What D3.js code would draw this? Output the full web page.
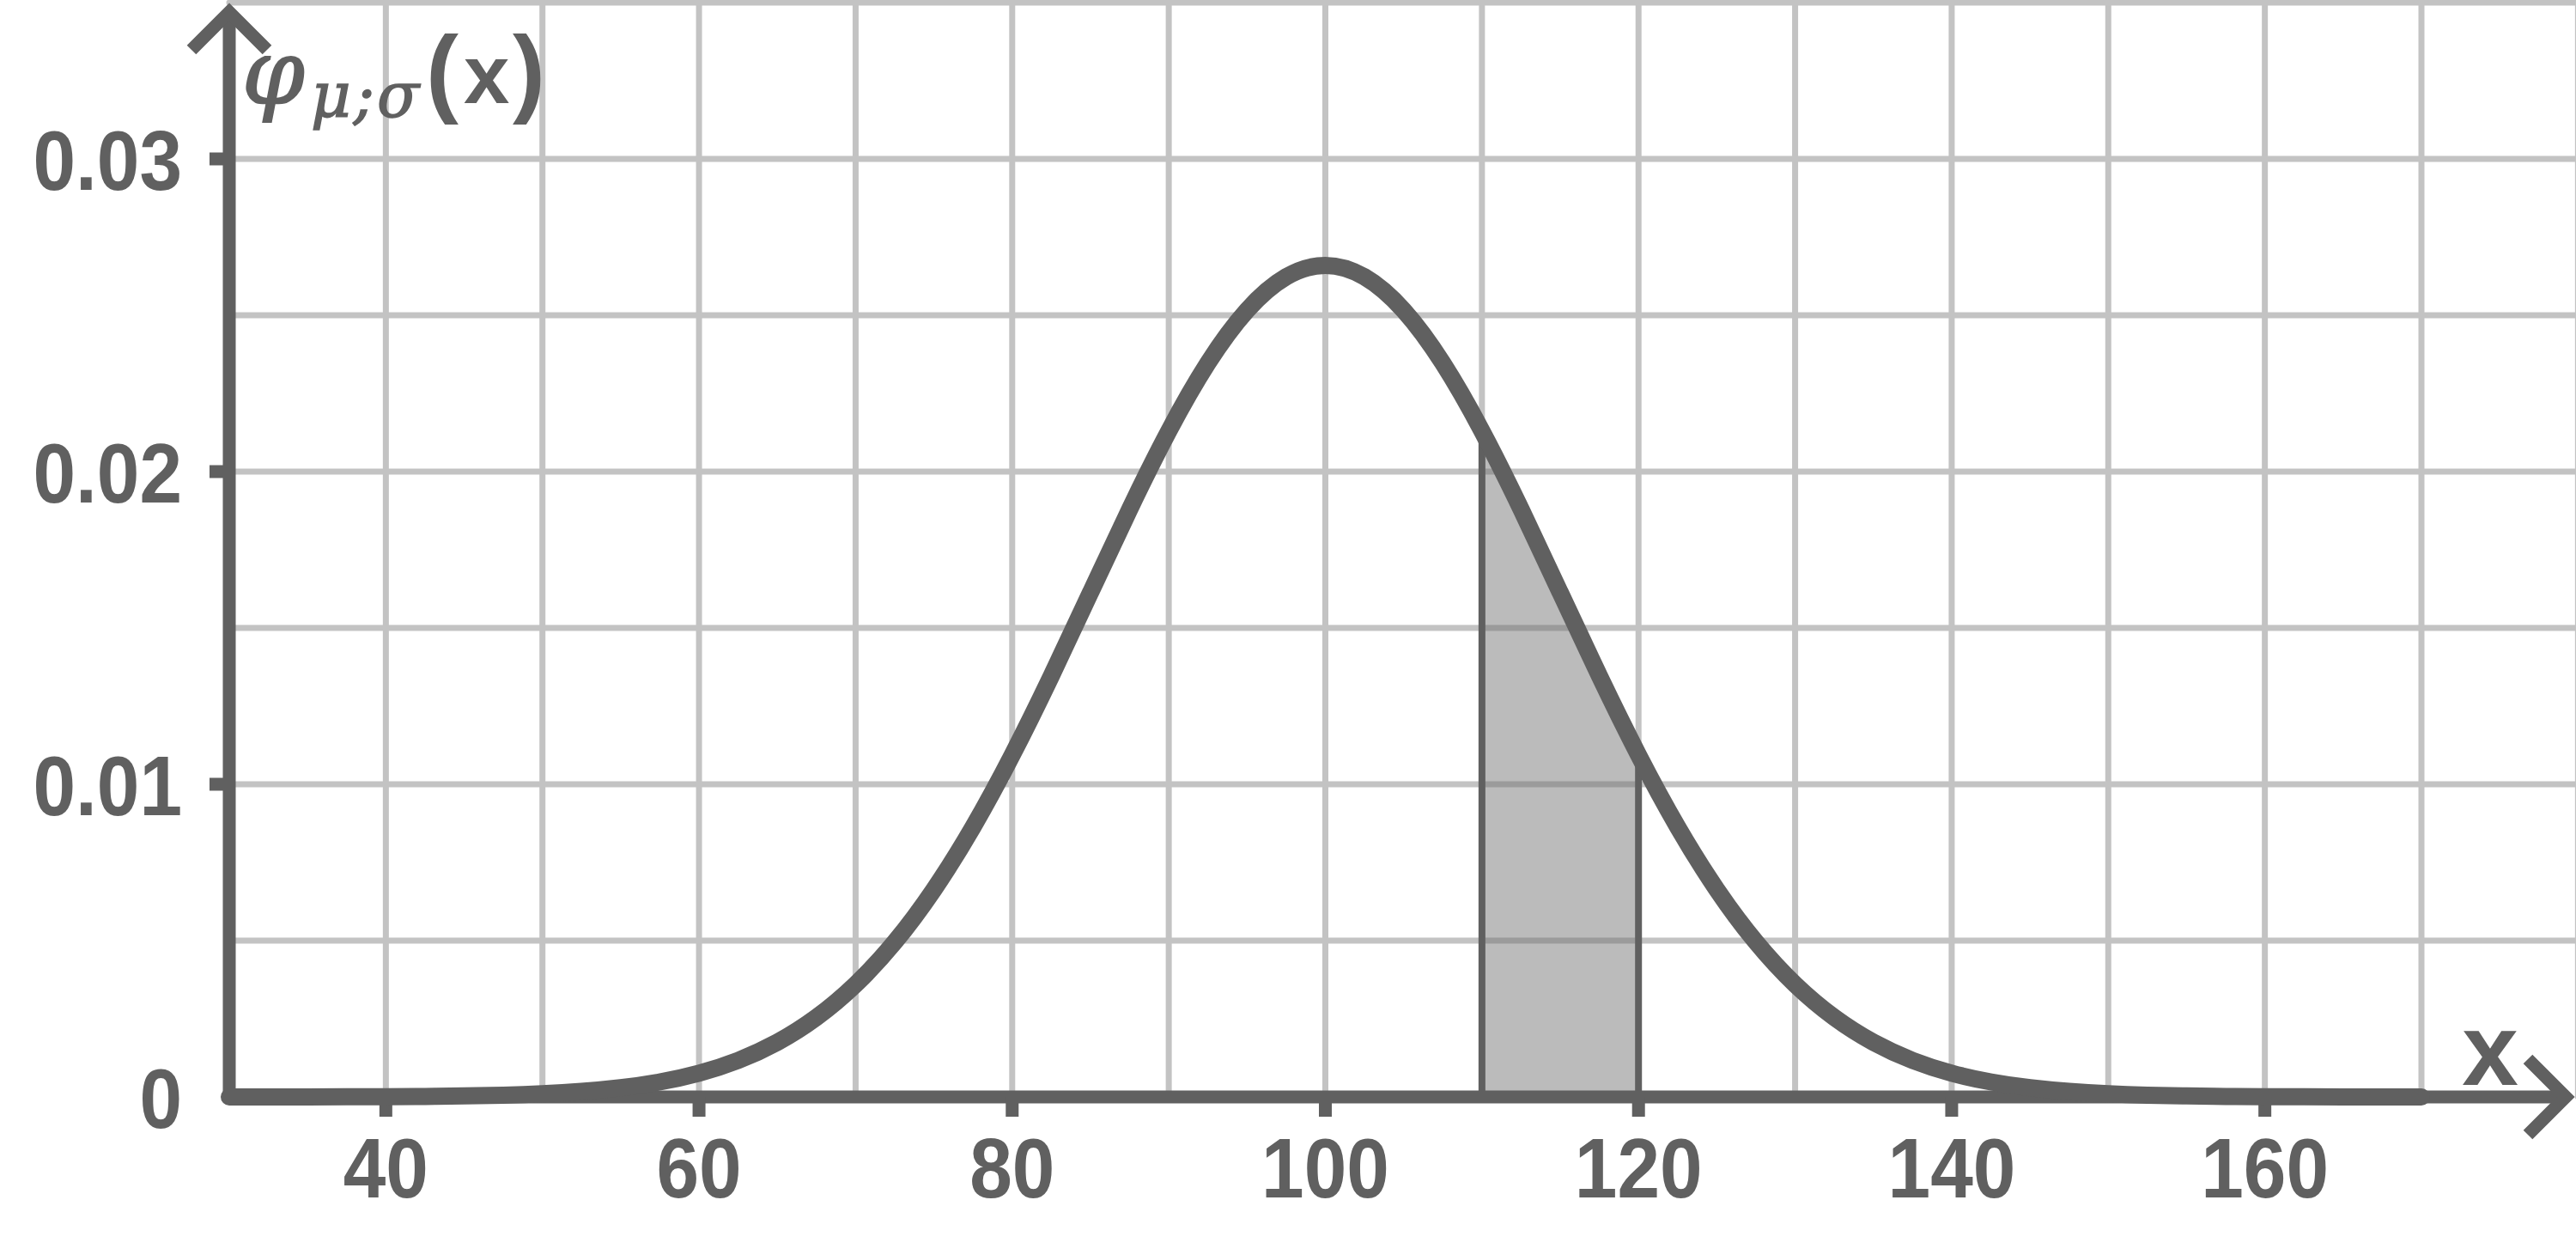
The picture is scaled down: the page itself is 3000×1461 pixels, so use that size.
<!DOCTYPE html>
<html>
<head>
<meta charset="utf-8">
<script src="https://cdn.jsdelivr.net/npm/d3@7"></script>
<style>
  html, body { margin: 0; padding: 0; background: #ffffff; }
  svg { display: block; }
</style>
</head>
<body>
<script>
// ---- data ----
const xValues = [30, 32.5, 35, 37.5, 40, 42.5, 45, 47.5, 50, 52.5, 55, 57.5, 60, 62.5, 65, 67.5,
                 70, 72.5, 75, 77.5, 80, 82.5, 85, 87.5, 90, 92.5, 95, 97.5, 100,
                 102.5, 105, 107.5, 110, 112.5, 115, 117.5, 120, 122.5, 125, 127.5, 130, 132.5,
                 135, 137.5, 140, 142.5, 145, 147.5, 150, 152.5, 155, 157.5, 160, 162.5, 165, 167.5, 170];
const densityValues = [0.0000005, 0.0000011, 0.0000022, 0.0000045, 0.0000089, 0.0000171, 0.000032, 0.0000582,
                       0.000103, 0.000177, 0.000295, 0.00048, 0.00076, 0.001169, 0.001748, 0.002544,
                       0.003599, 0.004954, 0.006634, 0.008634, 0.010934, 0.013466, 0.016131, 0.018794,
                       0.021296, 0.023471, 0.025159, 0.026229, 0.026596,
                       0.026229, 0.025159, 0.023471, 0.021296, 0.018794, 0.016131, 0.013466, 0.010934,
                       0.008634, 0.006634, 0.004954, 0.003599, 0.002544, 0.001748, 0.001169, 0.00076,
                       0.00048, 0.000295, 0.000177, 0.000103, 0.0000582, 0.000032, 0.0000171, 0.0000089,
                       0.0000045, 0.0000022, 0.0000011, 0.0000005];
const xTicks = [40, 60, 80, 100, 120, 140, 160];
const xTickLabels = ["40", "60", "80", "100", "120", "140", "160"];
const yTicks = [0, 0.01, 0.02, 0.03];
const yTickLabels = ["0", "0.01", "0.02", "0.03"];
const xGridValues = [40, 50, 60, 70, 80, 90, 100, 110, 120, 130, 140, 150, 160, 170, 180];
const yGridValues = [0.005, 0.01, 0.015, 0.02, 0.025, 0.03, 0.035];
const shadeRange = [110, 120];

const W = 3000, H = 1461;
const dark = "#606060", gridCol = "#c3c3c3";

const x = d3.scaleLinear().domain([30, 170]).range([267, 2820]);
const y = d3.scaleLinear().domain([0, 0.035]).range([1277, 3]);

const data = xValues.map((v, i) => ({ x: v, y: densityValues[i] }));

const svg = d3.select("body").append("svg").attr("width", W).attr("height", H);
svg.append("rect").attr("width", W).attr("height", H).attr("fill", "#fff");

// grid
const grid = svg.append("g");
grid.selectAll("line.v").data(xGridValues).join("line")
  .attr("x1", d => x(d)).attr("x2", d => x(d))
  .attr("y1", y(0.035)).attr("y2", y(0))
  .attr("stroke", gridCol).attr("stroke-width", 7).attr("stroke-linecap", "round");
grid.selectAll("line.h").data(yGridValues).join("line")
  .attr("x1", x(30)).attr("x2", W + 10)
  .attr("y1", d => y(d)).attr("y2", d => y(d))
  .attr("stroke", gridCol).attr("stroke-width", 7).attr("stroke-linecap", "round");

// shaded area
svg.append("clipPath").attr("id", "shadeClip").append("rect")
  .attr("x", x(shadeRange[0])).attr("y", 0)
  .attr("width", x(shadeRange[1]) - x(shadeRange[0])).attr("height", H);
const area = d3.area().x(d => x(d.x)).y0(y(0)).y1(d => y(d.y)).curve(d3.curveNatural);
svg.append("path").datum(data).attr("d", area)
  .attr("clip-path", "url(#shadeClip)")
  .attr("fill", "#707070").attr("fill-opacity", 0.476);

// boundary lines
svg.selectAll("line.bound").data(shadeRange).join("line")
  .attr("x1", d => x(d)).attr("x2", d => x(d))
  .attr("y1", y(0))
  .attr("y2", d => y(densityValues[xValues.indexOf(d)]))
  .attr("stroke", dark).attr("stroke-width", 8);

// axes
svg.append("line").attr("x1", x(30)).attr("x2", 2988).attr("y1", y(0)).attr("y2", y(0))
  .attr("stroke", dark).attr("stroke-width", 15);
svg.append("line").attr("x1", x(30)).attr("x2", x(30)).attr("y1", y(0)).attr("y2", 16)
  .attr("stroke", dark).attr("stroke-width", 15);

// arrows
const arm = 44;
svg.append("polyline")
  .attr("points", [[x(30) - arm, 14 + arm], [x(30), 14], [x(30) + arm, 14 + arm]].map(p => p.join(",")).join(" "))
  .attr("fill", "none").attr("stroke", dark).attr("stroke-width", 15).attr("stroke-linejoin", "miter");
svg.append("polyline")
  .attr("points", [[2988 - arm, y(0) - arm], [2988, y(0)], [2988 - arm, y(0) + arm]].map(p => p.join(",")).join(" "))
  .attr("fill", "none").attr("stroke", dark).attr("stroke-width", 15).attr("stroke-linejoin", "miter");

// ticks
svg.selectAll("line.xt").data(xTicks).join("line")
  .attr("x1", d => x(d)).attr("x2", d => x(d))
  .attr("y1", y(0)).attr("y2", y(0) + 23)
  .attr("stroke", dark).attr("stroke-width", 15);
svg.selectAll("line.yt").data(yTicks.filter(d => d > 0)).join("line")
  .attr("x1", x(30)).attr("x2", x(30) - 23)
  .attr("y1", d => y(d)).attr("y2", d => y(d))
  .attr("stroke", dark).attr("stroke-width", 15);

// curve
const line = d3.line().x(d => x(d.x)).y(d => y(d.y)).curve(d3.curveNatural);
svg.append("path").datum(data).attr("d", line)
  .attr("fill", "none").attr("stroke", dark).attr("stroke-width", 20)
  .attr("stroke-linecap", "round").attr("stroke-linejoin", "round");

// tick labels (slightly condensed bold)
const lab = "'Liberation Sans', Arial, sans-serif";
svg.selectAll("text.xl").data(xTicks).join("text")
  .attr("transform", d => `translate(${x(d)},1394) scale(0.91,1)`)
  .attr("text-anchor", "middle")
  .attr("font-family", lab).attr("font-weight", "bold").attr("font-size", 98)
  .attr("fill", dark)
  .text((d, i) => xTickLabels[i]);
svg.selectAll("text.yl").data(yTicks).join("text")
  .attr("transform", d => `translate(212,${y(d) + 36}) scale(0.91,1)`)
  .attr("text-anchor", "end")
  .attr("font-family", lab).attr("font-weight", "bold").attr("font-size", 98)
  .attr("fill", dark)
  .text((d, i) => yTickLabels[i]);

// y-axis label  φ_{μ;σ}(x)
const serif = "'DejaVu Serif', serif";
svg.append("text").attr("x", 282).attr("y", 120)
  .attr("font-family", serif).attr("font-style", "italic").attr("font-size", 104)
  .attr("fill", dark).attr("stroke", dark).attr("stroke-width", 2).text("φ");
svg.append("text").attr("x", 362).attr("y", 136)
  .attr("font-family", serif).attr("font-style", "italic").attr("font-size", 72)
  .attr("letter-spacing", 3)
  .attr("fill", dark).attr("stroke", dark).attr("stroke-width", 1.5).text("μ;σ");
svg.append("text").attr("x", 496).attr("y", 121)
  .attr("font-family", lab).attr("font-weight", "bold").attr("font-size", 114).attr("fill", dark).text("(");
svg.append("text").attr("x", 540).attr("y", 120)
  .attr("font-family", lab).attr("font-weight", "bold").attr("font-size", 96).attr("fill", dark).text("x");
svg.append("text").attr("x", 597).attr("y", 121)
  .attr("font-family", lab).attr("font-weight", "bold").attr("font-size", 114).attr("fill", dark).text(")");

// x-axis label
svg.append("text").attr("x", 2900).attr("y", 1263)
  .attr("text-anchor", "middle")
  .attr("font-family", lab).attr("font-weight", "bold").attr("font-size", 118).attr("fill", dark).text("x");
</script>
</body>
</html>
